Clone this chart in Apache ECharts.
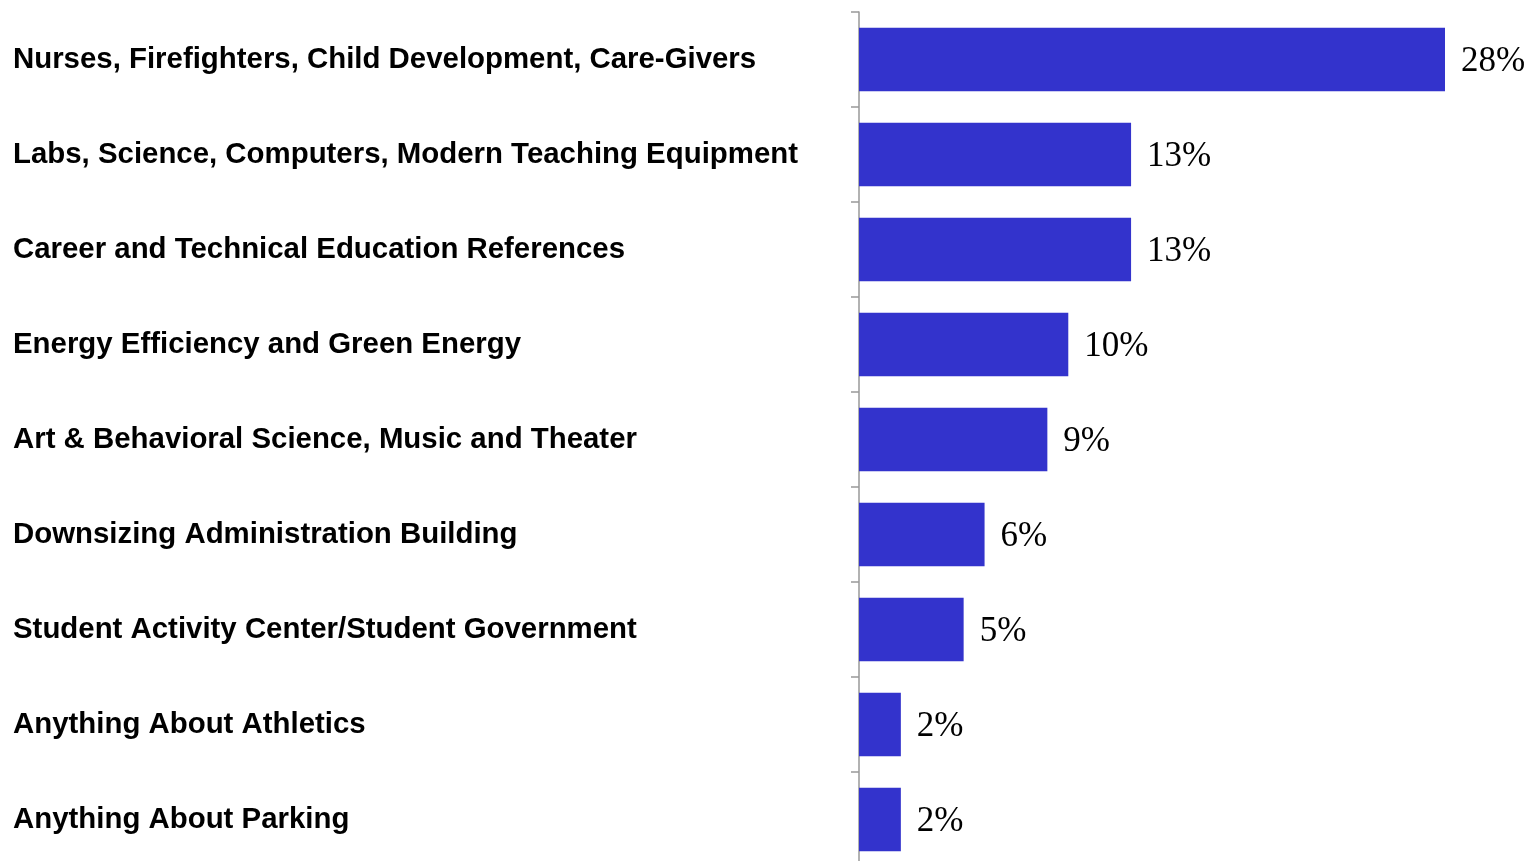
<!DOCTYPE html>
<html><head><meta charset="utf-8">
<script src="https://cdn.jsdelivr.net/npm/echarts@6/dist/echarts.min.js"></script>
<style>html,body{margin:0;padding:0;background:#fff;overflow:hidden}#c{width:1529px;height:867px}</style>
</head><body><div id="c"></div>
<script>
const categories = [
  "Nurses, Firefighters, Child Development, Care-Givers",
  "Labs, Science, Computers, Modern Teaching Equipment",
  "Career and Technical Education References",
  "Energy Efficiency and Green Energy",
  "Art & Behavioral Science, Music and Theater",
  "Downsizing Administration Building",
  "Student Activity Center/Student Government",
  "Anything About Athletics",
  "Anything About Parking"
];
const values = [28, 13, 13, 10, 9, 6, 5, 2, 2];

const chart = echarts.init(document.getElementById('c'), null, {renderer: 'canvas'});
chart.setOption({
  animation: false,
  backgroundColor: '#ffffff',
  grid: {left: 859, top: 12, right: 84, bottom: 0, containLabel: false},
  xAxis: {type: 'value', min: 0, max: 28, show: false},
  yAxis: {
    type: 'category', data: categories, inverse: true,
    axisLine: {show: true, lineStyle: {color: '#999999', width: 1.5}},
    axisTick: {show: true, length: 8, lineStyle: {color: '#999999', width: 1.5}},
    axisLabel: {
      align: 'left', margin: 846, padding: [4, 0, 0, 0],
      fontFamily: 'Liberation Sans, Arial, sans-serif', fontWeight: 'bold',
      fontSize: 29.4, color: '#000000'
    },
    splitLine: {show: false}
  },
  series: [{
    type: 'bar', data: values, barCategoryGap: '33%',
    itemStyle: {color: '#3333CC'},
    label: {
      show: true, position: 'right', distance: 16, offset: [0, 2],
      formatter: '{c}%', fontFamily: 'Liberation Serif, Times New Roman, serif',
      fontSize: 35, color: '#000000'
    }
  }]
});
</script></body></html>
